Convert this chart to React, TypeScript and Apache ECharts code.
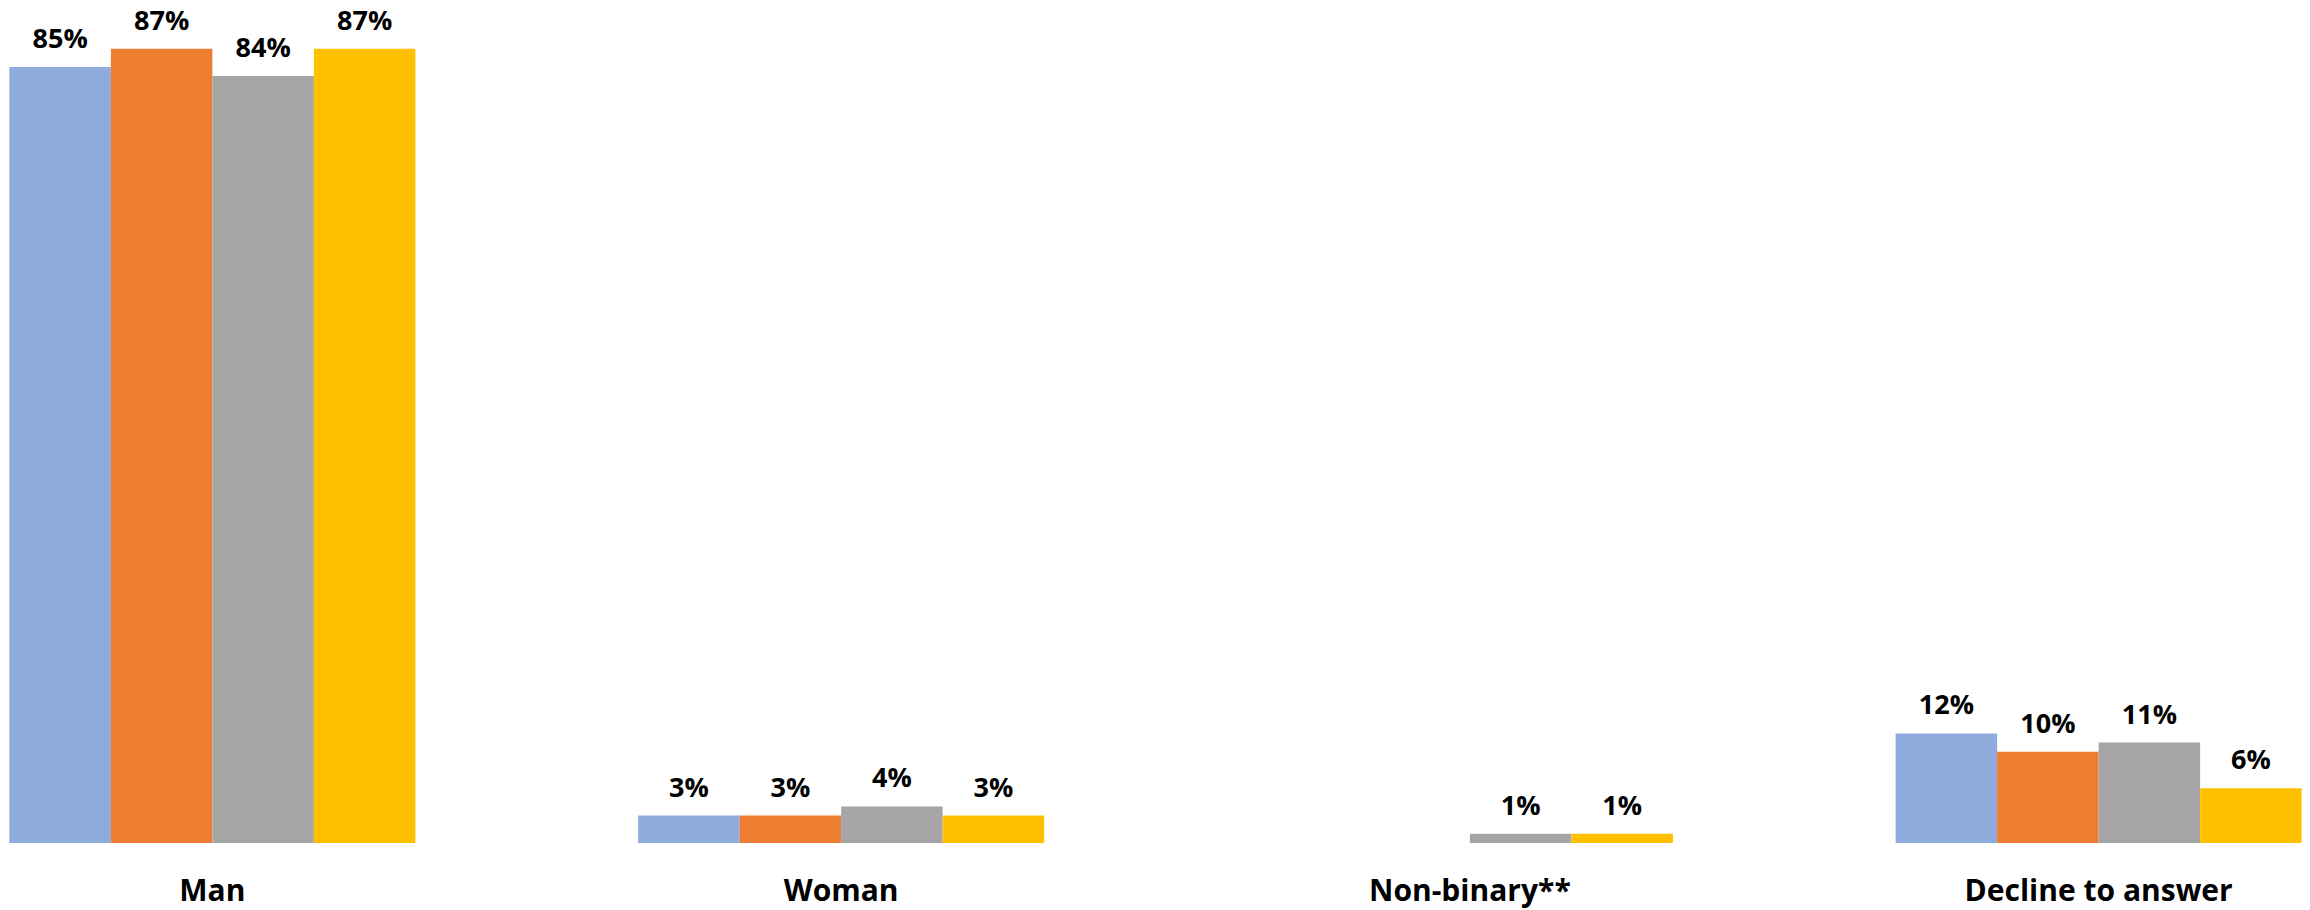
import React, { useEffect, useRef } from "react";
import * as echarts from "echarts";

const categories = ["Man", "Woman", "Non-binary**", "Decline to answer"];
const seriesNames = ["Group 1", "Group 2", "Group 3", "Group 4"];
const group1 = [85, 3, null, 12];
const group2 = [87, 3, null, 10];
const group3 = [84, 4, 1, 11];
const group4 = [87, 3, 1, 6];
const colors = ["#8FAADC", "#ED7D31", "#A5A5A5", "#FFC000"];

const FONT = "'Open Sans', 'Noto Sans', sans-serif";

export default function App() {
  const ref = useRef<HTMLDivElement>(null);
  useEffect(() => {
    if (!ref.current) return;
    const chart = echarts.init(ref.current, null, { renderer: "svg" });
    const data = [group1, group2, group3, group4];
    chart.setOption({
      animation: false,
      backgroundColor: "#ffffff",
      grid: { left: 0, right: 0, top: 0, bottom: 67, containLabel: false },
      xAxis: {
        type: "category",
        data: categories,
        axisLine: { show: false },
        axisTick: { show: false },
        axisLabel: {
          margin: 31,
          fontFamily: FONT,
          fontWeight: "bold",
          fontSize: 30,
          color: "#000000",
          interval: 0,
        },
      },
      yAxis: {
        type: "value",
        min: 0,
        max: 92.33,
        show: false,
        splitLine: { show: false },
      },
      series: data.map((d, i) => ({
        name: seriesNames[i],
        type: "bar",
        data: d,
        barWidth: 101.5,
        barGap: "0%",
        itemStyle: { color: colors[i] },
        label: {
          show: true,
          position: "top",
          distance: 16,
          formatter: "{c}%",
          fontFamily: FONT,
          fontWeight: "bold",
          fontSize: 27,
          color: "#000000",
        },
      })),
    });
    return () => chart.dispose();
  }, []);
  return (
    <div style={{ position: "fixed", left: 0, top: 0, width: 2310, height: 910, overflow: "hidden", background: "#fff" }}>
      <div
        ref={ref}
        style={{ position: "absolute", left: -102.3, top: 0, width: 2514.7, height: 910 }}
      />
    </div>
  );
}
